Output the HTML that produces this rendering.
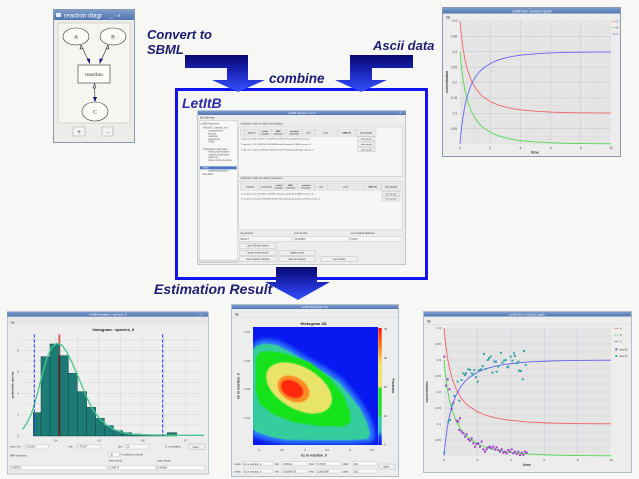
<!DOCTYPE html>
<html><head><meta charset="utf-8"><style>html,body{margin:0;padding:0;background:#f7f7f5;overflow:hidden}svg{display:block}</style></head><body>
<svg xmlns="http://www.w3.org/2000/svg" width="639" height="479" viewBox="0 0 639 479" font-family="'Liberation Sans', sans-serif">
<defs>
<linearGradient id="tb" x1="0" y1="0" x2="0" y2="1"><stop offset="0" stop-color="#7e9dcc"/><stop offset="1" stop-color="#4f74b0"/></linearGradient>
<linearGradient id="a1" gradientUnits="userSpaceOnUse" x1="0" y1="55" x2="0" y2="92"><stop offset="0" stop-color="#08086c"/><stop offset="0.45" stop-color="#1a26b8"/><stop offset="1" stop-color="#3352ff"/></linearGradient>
<linearGradient id="a2" gradientUnits="userSpaceOnUse" x1="0" y1="267" x2="0" y2="300"><stop offset="0" stop-color="#08086c"/><stop offset="0.45" stop-color="#1a26b8"/><stop offset="1" stop-color="#3352ff"/></linearGradient>
<linearGradient id="cbar" x1="0" y1="0" x2="0" y2="1"><stop offset="0" stop-color="#ff1010"/><stop offset="0.15" stop-color="#ff7010"/><stop offset="0.3" stop-color="#eee060"/><stop offset="0.5" stop-color="#e8e860"/><stop offset="0.52" stop-color="#20e020"/><stop offset="0.74" stop-color="#20e030"/><stop offset="0.77" stop-color="#30d0a0"/><stop offset="0.88" stop-color="#30c0c0"/><stop offset="0.93" stop-color="#1040ff"/><stop offset="1" stop-color="#0010f0"/></linearGradient>
<filter id="bl" x="-20%" y="-20%" width="140%" height="140%"><feGaussianBlur stdDeviation="2"/></filter>
<filter id="bl2" x="-10%" y="-10%" width="120%" height="120%"><feGaussianBlur stdDeviation="0.5"/></filter>
<clipPath id="hc"><rect x="253" y="327" width="125" height="118"/></clipPath>
</defs>
<rect width="639" height="479" fill="#f7f7f5"/>

<!-- headings -->
<g font-weight="bold" font-style="italic" fill="#1d1d72">
<text x="147" y="39" font-size="13">Convert to</text>
<text x="147" y="54" font-size="13">SBML</text>
<text x="269" y="83" font-size="13.5">combine</text>
<text x="373" y="50" font-size="13">Ascii data</text>
<text x="182" y="108" font-size="14" fill="#2c2ca6">LetItB</text>
<text x="154" y="294" font-size="14">Estimation Result</text>
</g>

<!-- blue frame -->
<rect x="176.5" y="89.5" width="250" height="189" fill="none" stroke="#1414f0" stroke-width="3"/>

<!-- arrows -->
<path d="M185,55 H248 V80 H265 L238,92 L212,80 H227 V68 H185 Z" fill="url(#a1)"/>
<path d="M350,55 H413 V68 H372 V80 H387 L361,92 L335,80 H350 Z" fill="url(#a1)"/>

<!-- top-left window -->
<g>
<rect x="53.5" y="9.5" width="81" height="133" fill="#ececea" stroke="#8899b0"/>
<rect x="54" y="10" width="80" height="10" fill="url(#tb)"/>
<rect x="56" y="13" width="5" height="4" fill="#fff" opacity=".85"/>
<text x="64" y="17.5" font-size="6.3" fill="#fff">reaction diagr</text>
<text x="110" y="17.5" font-size="5" fill="#fff">_  ▫  ×</text>
<rect x="58" y="23" width="72" height="100" fill="#f6f5f0" stroke="#d6d6cc"/>
<g fill="#fbfbf8" stroke="#333" stroke-width="0.6">
<ellipse cx="76" cy="36.5" rx="13" ry="8.5"/>
<ellipse cx="113" cy="36.5" rx="13" ry="8.5"/>
<rect x="78" y="65" width="32" height="18"/>
<ellipse cx="95" cy="111.5" rx="13" ry="9.5"/>
</g>
<g font-family="'Liberation Serif', serif" font-size="5.5" fill="#222" text-anchor="middle">
<text x="76" y="38.5">A</text><text x="113" y="38.5">B</text><text x="94" y="76">reaction</text><text x="95" y="113.5">C</text>
</g>
<g stroke="#223" stroke-width="0.6" fill="none">
<line x1="81" y1="45" x2="89.5" y2="63"/><line x1="108" y1="45" x2="100" y2="63"/><line x1="94.5" y1="83" x2="95" y2="101"/>
<path d="M81,45.5 L80,49 L83,48.5 Z" fill="#fff"/><path d="M108,45.5 L109,49 L106,48.5 Z" fill="#fff"/><path d="M94.5,84 L93,88 L96,88 Z" fill="#fff"/>
</g>
<g fill="#10107a"><path d="M90,64 L86.5,59 L90,58.5 Z"/><path d="M99.5,64 L99.5,58.5 L103,59 Z"/><path d="M95,102 L93,97 L97,97 Z"/></g>
<rect x="73" y="127" width="12" height="9" rx="1" fill="#f3f3f3" stroke="#aaa" stroke-width="0.6"/>
<text x="79" y="134" font-size="6" text-anchor="middle" fill="#333">+</text>
<rect x="102" y="127" width="11" height="9" rx="1" fill="#f3f3f3" stroke="#aaa" stroke-width="0.6"/>
<text x="107.5" y="134" font-size="6" text-anchor="middle" fill="#333">-</text>
</g>

<!-- top-right window -->
<g>
<rect x="442.5" y="7.5" width="178" height="149" fill="#ededed" stroke="#8899b0"/>
<rect x="443" y="8" width="177" height="5.5" fill="url(#tb)"/>
<text x="532" y="12.3" font-size="3.4" fill="#fff" text-anchor="middle">LetItB time evolution graph</text>
<text x="446" y="18.5" font-size="3.4" fill="#333">file</text>
<line x1="443" y1="20" x2="620" y2="20" stroke="#d8d8d8" stroke-width="0.5"/>
<rect x="460" y="21" width="151" height="123" fill="#e5e5e6"/>
<g stroke="#d0d0d0" stroke-width="0.4" stroke-dasharray="1,1">
<line x1="475.1" y1="21" x2="475.1" y2="144"/><line x1="505.3" y1="21" x2="505.3" y2="144"/><line x1="535.5" y1="21" x2="535.5" y2="144"/><line x1="565.7" y1="21" x2="565.7" y2="144"/><line x1="595.9" y1="21" x2="595.9" y2="144"/>
<line x1="460" y1="136.3" x2="611" y2="136.3"/><line x1="460" y1="120.9" x2="611" y2="120.9"/><line x1="460" y1="105.6" x2="611" y2="105.6"/><line x1="460" y1="90.2" x2="611" y2="90.2"/><line x1="460" y1="74.8" x2="611" y2="74.8"/><line x1="460" y1="59.4" x2="611" y2="59.4"/><line x1="460" y1="44.1" x2="611" y2="44.1"/><line x1="460" y1="28.7" x2="611" y2="28.7"/>
</g>
<g stroke="#c4c4d6" stroke-width="0.5">
<line x1="490.2" y1="21" x2="490.2" y2="144"/><line x1="520.4" y1="21" x2="520.4" y2="144"/><line x1="550.6" y1="21" x2="550.6" y2="144"/><line x1="580.8" y1="21" x2="580.8" y2="144"/>
<line x1="460" y1="128.6" x2="611" y2="128.6"/><line x1="460" y1="113.25" x2="611" y2="113.25"/><line x1="460" y1="97.9" x2="611" y2="97.9"/><line x1="460" y1="82.5" x2="611" y2="82.5"/><line x1="460" y1="67.1" x2="611" y2="67.1"/><line x1="460" y1="51.75" x2="611" y2="51.75"/><line x1="460" y1="36.4" x2="611" y2="36.4"/>
</g>
<g font-size="3.2" fill="#444" text-anchor="end">
<text x="457" y="22.2">0.4</text><text x="457" y="37.6">0.35</text><text x="457" y="53">0.3</text><text x="457" y="68.3">0.25</text><text x="457" y="83.7">0.2</text><text x="457" y="99.1">0.15</text><text x="457" y="114.5">0.1</text><text x="457" y="129.8">0.05</text>
</g>
<g font-size="3.2" fill="#444" text-anchor="middle">
<text x="460" y="149">0</text><text x="490.2" y="149">2</text><text x="520.4" y="149">4</text><text x="550.6" y="149">6</text><text x="580.8" y="149">8</text><text x="611" y="149">10</text>
</g>
<text x="535" y="153.5" font-size="3.8" font-weight="bold" fill="#333" text-anchor="middle">time</text>
<text x="448" y="82" font-size="3.4" font-weight="bold" fill="#333" text-anchor="middle" transform="rotate(-90,448,82)">concentration</text>
<g transform="translate(460,144) scale(15.1,-307.5)" fill="none">
<polyline vector-effect="non-scaling-stroke" stroke="#f06464" stroke-width="0.9" points="0,0.4 0.05,0.3724 0.1,0.3489 0.2,0.3111 0.3,0.2821 0.4,0.2591 0.5,0.2404 0.75,0.2064 1,0.1835 1.25,0.1671 1.5,0.1549 2,0.1381 2.5,0.1274 3,0.1201 3.5,0.115 4,0.1113 5,0.1066 6,0.1039 7,0.1023 8,0.1014 10,0.1005"/>
<polyline vector-effect="non-scaling-stroke" stroke="#50d850" stroke-width="0.9" points="0,0.3 0.05,0.2724 0.1,0.2489 0.2,0.2111 0.3,0.1821 0.4,0.1591 0.5,0.1404 0.75,0.1064 1,0.0835 1.25,0.0671 1.5,0.0549 2,0.0381 2.5,0.0274 3,0.0201 3.5,0.015 4,0.0113 5,0.0066 6,0.0039 7,0.0023 8,0.0014 10,0.0005"/>
<polyline vector-effect="non-scaling-stroke" stroke="#6464f0" stroke-width="0.9" points="0,0 0.05,0.0276 0.1,0.0511 0.2,0.0889 0.3,0.1179 0.4,0.1409 0.5,0.1596 0.75,0.1936 1,0.2165 1.25,0.2329 1.5,0.2451 2,0.2619 2.5,0.2726 3,0.2799 3.5,0.285 4,0.2887 5,0.2934 6,0.2961 7,0.2977 8,0.2986 10,0.2995"/>
</g>
<g stroke-width="0.7"><line x1="612.5" y1="21.5" x2="615.5" y2="21.5" stroke="#f06464"/><line x1="612.5" y1="27.5" x2="615.5" y2="27.5" stroke="#50d850"/><line x1="612.5" y1="34" x2="615.5" y2="34" stroke="#6464f0"/></g>
<g font-size="2.8" fill="#444"><text x="616.5" y="22.5">A</text><text x="616.5" y="28.5">B</text><text x="616.5" y="35">C</text></g>
</g>

<!-- center window (zoom coords) -->
<g transform="translate(170,80) scale(0.33333)">
<rect x="83" y="92" width="624" height="461" fill="#ededed" stroke="#8899b0" stroke-width="1.5"/>
<rect x="83" y="92" width="624" height="13" fill="url(#tb)"/>
<text x="395" y="102" font-size="9" fill="#fff" text-anchor="middle">LetItB: Sample 1.xml</text>
<text x="678" y="102" font-size="8" fill="#fff">_  ▫  ×</text>
<text x="90" y="116" font-size="8" fill="#333">file   Edit   help</text>
<rect x="88" y="122" width="115" height="426" fill="#f8f8f8" stroke="#aaa"/>
<rect x="90" y="259" width="110" height="9" fill="#4a78c0"/>
<g font-size="7" fill="#555">
<text x="92" y="134">LetItB Parameters</text>
<text x="98" y="146">⊟ Model 1 Sample1.xml</text>
<text x="115" y="155">compartments</text><text x="115" y="163">species</text><text x="115" y="171">reactions</text><text x="115" y="180">parameters</text><text x="115" y="188">ODEs</text>
<text x="98" y="210">⊟ Parameter Estimation</text>
<text x="115" y="218">initial concentrations</text><text x="115" y="226">reaction parameters</text><text x="115" y="234">data sets</text><text x="115" y="243">Monte Carlo execution</text>
<text x="98" y="266" fill="#fff">result</text>
<text x="115" y="274">estimated reactions</text>
<text x="98" y="285">Simulation</text>
</g>
<rect x="89" y="540" width="113" height="7" fill="#dedede" stroke="#bbb" stroke-width="0.8"/>
<text x="211" y="134" font-size="7" fill="#444">estimation results of initial concentrations</text>
<rect x="206" y="141" width="492" height="148" fill="#f6f6f6" stroke="#aaa"/>
<g fill="#e8e8e8" stroke="#bbb" stroke-width="0.8">
<rect x="211" y="147" width="12" height="22"/><rect x="223" y="147" width="45" height="22"/><rect x="268" y="147" width="35" height="22"/><rect x="303" y="147" width="45" height="22"/><rect x="348" y="147" width="50" height="22"/><rect x="398" y="147" width="35" height="22"/><rect x="433" y="147" width="70" height="22"/><rect x="503" y="147" width="55" height="22"/><rect x="558" y="147" width="60" height="22"/>
</g>
<g font-size="6.5" fill="#333" text-anchor="middle" font-weight="bold">
<text x="245" y="160">species</text><text x="285" y="156">initial</text><text x="285" y="164">sample</text><text x="325" y="156">MAP</text><text x="325" y="164">estimator</text><text x="373" y="156">standard</text><text x="373" y="164">deviation</text><text x="415" y="160">unit</text><text x="468" y="160">prior</text><text x="530" y="160">SBML ID</text><text x="588" y="160">show graph</text>
</g>
<g font-size="6.5" fill="#444">
<text x="213" y="179">0  species_0  0.4      0.427117    0.0419965    mol/l  Gamma(1.0.4071)   species_0</text>
<text x="213" y="195">1  species_1  0.3      0.298156    0.00545689  mol/l  Gamma(1.0.3044)   species_1</text>
<text x="213" y="211">2  species_2  0.01    0.0116492   0.0055279   mol/l  Gamma(1.00.0101)  species_2</text>
</g>
<g fill="#eee" stroke="#999" stroke-width="0.8"><rect x="563" y="170" width="52" height="13"/><rect x="563" y="186" width="52" height="13"/><rect x="563" y="202" width="52" height="13"/></g>
<g font-size="6.5" fill="#444" text-anchor="middle"><text x="589" y="179">show graph</text><text x="589" y="195">show graph</text><text x="589" y="211">show graph</text></g>
<text x="211" y="297" font-size="7" fill="#444">estimation results of reaction parameters</text>
<rect x="206" y="304" width="492" height="146" fill="#f6f6f6" stroke="#aaa"/>
<g fill="#e8e8e8" stroke="#bbb" stroke-width="0.8">
<rect x="211" y="309" width="57" height="22"/><rect x="268" y="309" width="45" height="22"/><rect x="313" y="309" width="28" height="22"/><rect x="341" y="309" width="42" height="22"/><rect x="383" y="309" width="50" height="22"/><rect x="433" y="309" width="40" height="22"/><rect x="473" y="309" width="110" height="22"/><rect x="583" y="309" width="50" height="22"/><rect x="633" y="309" width="60" height="22"/>
</g>
<g font-size="6.5" fill="#333" text-anchor="middle" font-weight="bold">
<text x="240" y="322">reaction</text><text x="290" y="322">parameter</text><text x="327" y="318">initial</text><text x="327" y="326">sample</text><text x="362" y="318">MAP</text><text x="362" y="326">estimator</text><text x="408" y="318">standard</text><text x="408" y="326">deviation</text><text x="453" y="322">unit</text><text x="528" y="322">prior</text><text x="608" y="322">SBML ID</text><text x="663" y="322">show graph</text>
</g>
<g font-size="6.5" fill="#444">
<text x="213" y="343">0  reaction_0   k1        5         4.39402      0.540436     unknown   gamma(1.0.0880)   reaction_0</text>
<text x="213" y="359">1  reaction_0   k2        0.01    0.0185563   0.0075764   unknown   gamma(1.0.0915)   reaction_0</text>
</g>
<g fill="#eee" stroke="#999" stroke-width="0.8"><rect x="636" y="334" width="54" height="13"/><rect x="636" y="350" width="54" height="13"/></g>
<g font-size="6.5" fill="#444" text-anchor="middle"><text x="663" y="343">show graph</text><text x="663" y="359">show graph</text></g>
<g font-size="7" fill="#444"><text x="211" y="462">log posterior</text><text x="372" y="462">error function</text><text x="540" y="462">-Log marginal likelihood</text></g>
<g fill="#f7f7f7" stroke="#aaa" stroke-width="0.8"><rect x="207" y="470" width="158" height="14"/><rect x="370" y="470" width="165" height="14"/><rect x="538" y="470" width="160" height="14"/></g>
<g font-size="7" fill="#444"><text x="211" y="480">525.417</text><text x="374" y="480">19.269837</text><text x="542" y="480">523.67</text></g>
<g fill="#efefef" stroke="#999" stroke-width="0.8">
<rect x="208" y="490" width="112" height="15" rx="2"/><rect x="208" y="511" width="112" height="15" rx="2"/><rect x="326" y="511" width="111" height="15" rx="2"/><rect x="208" y="530" width="112" height="15" rx="2"/><rect x="326" y="530" width="111" height="15" rx="2"/><rect x="452" y="530" width="110" height="15" rx="2"/>
</g>
<g font-size="7" fill="#444" text-anchor="middle">
<text x="264" y="500">open 2D stat window</text><text x="264" y="521">update initial sample</text><text x="381" y="521">update model</text><text x="264" y="540">save effective samples</text><text x="381" y="540">save all samples</text><text x="507" y="540">save results</text>
</g>
</g>

<!-- bottom arrow (over frame) -->
<path d="M276,267 H317 V282 H330 L298,300 L265,282 H276 Z" fill="url(#a2)"/>

<!-- bottom-left histogram window (zoom coords) -->
<g transform="translate(0,290) scale(0.33333)">
<rect x="22" y="65" width="603" height="487" fill="#ededed" stroke="#8899b0" stroke-width="1.5"/>
<rect x="22" y="65" width="603" height="15" fill="url(#tb)"/>
<text x="323" y="76" font-size="9" fill="#fff" text-anchor="middle">LetItB histogram : species_0</text>
<text x="590" y="76" font-size="8" fill="#fff">_  ▫  ×</text>
<rect x="24" y="82" width="599" height="22" fill="#e6e6e6"/>
<text x="33" y="100" font-size="9" fill="#333">file</text>
<text x="340" y="123" font-size="12" font-weight="bold" fill="#222" text-anchor="middle">histogram : species_0</text>
<rect x="65" y="133" width="547" height="305" fill="#efefef"/>
<g stroke="#bcbcbc" stroke-width="1.5" stroke-dasharray="3,3">
<line x1="102" y1="133" x2="102" y2="438"/><line x1="167" y1="133" x2="167" y2="438"/><line x1="232" y1="133" x2="232" y2="438"/><line x1="297" y1="133" x2="297" y2="438"/><line x1="362" y1="133" x2="362" y2="438"/><line x1="428" y1="133" x2="428" y2="438"/><line x1="492" y1="133" x2="492" y2="438"/><line x1="557" y1="133" x2="557" y2="438"/>
<line x1="65" y1="150" x2="612" y2="150"/><line x1="65" y1="182" x2="612" y2="182"/><line x1="65" y1="213" x2="612" y2="213"/><line x1="65" y1="245" x2="612" y2="245"/><line x1="65" y1="277" x2="612" y2="277"/><line x1="65" y1="310" x2="612" y2="310"/><line x1="65" y1="341" x2="612" y2="341"/><line x1="65" y1="373" x2="612" y2="373"/><line x1="65" y1="405" x2="612" y2="405"/>
</g>
<g font-size="8" fill="#444" text-anchor="end"><text x="57" y="185">8</text><text x="57" y="248">6</text><text x="57" y="313">4</text><text x="57" y="376">2</text><text x="57" y="440">0</text></g>
<g font-size="8" fill="#444" text-anchor="middle"><text x="167" y="455">0.4</text><text x="297" y="455">0.5</text><text x="428" y="455">0.6</text><text x="557" y="455">0.7</text></g>
<text x="40" y="285" font-size="9" font-weight="bold" fill="#333" text-anchor="middle" transform="rotate(-90,40,285)">probability density</text>
<line x1="178" y1="133" x2="178" y2="200" stroke="#e86060" stroke-width="6"/>
<g fill="#1e7a74" stroke="#0e4844" stroke-width="1.5">
<rect x="100" y="368" width="23" height="70"/><rect x="123" y="200" width="27" height="238"/><rect x="150" y="162" width="28" height="276"/><rect x="178" y="197" width="27" height="241"/><rect x="205" y="250" width="27" height="188"/><rect x="232" y="305" width="28" height="133"/><rect x="260" y="352" width="27" height="86"/><rect x="287" y="385" width="26" height="53"/><rect x="313" y="407" width="27" height="31"/><rect x="340" y="422" width="28" height="16"/><rect x="368" y="428" width="27" height="10"/><rect x="395" y="432" width="27" height="6"/><rect x="422" y="434" width="26" height="4"/><rect x="448" y="434" width="27" height="4"/><rect x="475" y="434" width="27" height="4"/><rect x="502" y="428" width="28" height="10"/>
</g>
<line x1="178" y1="197" x2="178" y2="438" stroke="#5a2a2a" stroke-width="6"/>
<polyline fill="none" stroke="#48c890" stroke-width="4" points="68,418 80,400 95,370 110,320 125,260 140,205 155,172 170,160 185,165 200,185 215,215 230,250 245,285 260,322 275,352 290,375 305,392 320,405 340,418 360,425 380,430 400,433 450,435 500,436 612,436"/>
<g stroke="#2233ee" stroke-width="3" stroke-dasharray="10,5"><line x1="103" y1="133" x2="103" y2="438"/><line x1="488" y1="133" x2="488" y2="438"/></g>
<g font-size="7" fill="#444">
<text x="28" y="472">x-axis:  min</text><text x="205" y="472">max</text><text x="355" y="472">bins</text><text x="495" y="472">☐ x smoothing</text>
<text x="30" y="500">MAP estimators</text><text x="362" y="496">% confidence interval</text>
<text x="327" y="515">lower bound</text><text x="472" y="515">upper bound</text>
</g>
<g fill="#f8f8f8" stroke="#aaa"><rect x="75" y="463" width="70" height="14"/><rect x="230" y="463" width="70" height="14"/><rect x="378" y="463" width="67" height="14"/><rect x="325" y="486" width="33" height="13"/><rect x="30" y="526" width="290" height="14"/><rect x="325" y="526" width="143" height="14"/><rect x="470" y="526" width="145" height="14"/></g>
<rect x="565" y="462" width="50" height="17" rx="2" fill="#efefef" stroke="#999"/>
<g font-size="7" fill="#444"><text x="78" y="473">0.322832</text><text x="233" y="473">0.742317</text><text x="381" y="473">20</text><text x="331" y="496">90</text><text x="33" y="536">0.408700</text><text x="328" y="536">0.348173</text><text x="473" y="536">0.649591</text><text x="578" y="474">replot</text></g>
</g>

<!-- bottom-middle heatmap window -->
<g>
<rect x="231.5" y="304.5" width="167" height="172" fill="#ededed" stroke="#8899b0" stroke-width="0.6"/>
<rect x="232" y="305" width="166" height="4" fill="url(#tb)"/>
<text x="314.5" y="308.2" font-size="3" fill="#fff" text-anchor="middle">LetItB histogram 2D</text>
<text x="235" y="315.5" font-size="3.2" fill="#333">file</text>
<line x1="232" y1="317.5" x2="398" y2="317.5" stroke="#d8d8d8" stroke-width="0.5"/>
<text x="313.5" y="324.8" font-size="4" font-weight="bold" fill="#222" text-anchor="middle">Histogram 2D</text>
<g clip-path="url(#hc)">
<rect x="253" y="327" width="125" height="118" fill="#0818f0"/>
<path filter="url(#bl)" fill="#2a78ff" d="M251,346 L257,341 L266,339 L278,341 L292,348 L308,358 L326,368 L342,379 L354,393 L364,407 L371,420 L375,433 L373,442 L350,444 L316,444 L286,444 L268,441 L252,436 Z"/>
<path filter="url(#bl2)" fill="#34cc9e" d="M252.7,350 L256.7,345.7 L265,343.3 L276.7,345 L290,351.7 L306.7,361.7 L323.3,371.7 L338.3,381.7 L350,395 L360,408.3 L366.7,421.7 L370,433.3 L368.3,439 L350,440.3 L316.7,440.3 L286.7,440 L270,436.7 L256.7,432.3 L252.7,429 Z"/>
<path filter="url(#bl2)" fill="#18e21c" d="M256,358.3 L260,352.3 L270,351 L283.3,353 L310,362.3 L330,378.3 L343.3,395 L350,411.7 L350.7,422.3 L343.3,426.7 L316.7,425.7 L293.3,422.3 L273.3,414.3 L260,404.3 L256,391.7 Z"/>
<ellipse filter="url(#bl2)" cx="299" cy="388" rx="36" ry="21" transform="rotate(30,299,388)" fill="#e8e46a"/>
<ellipse filter="url(#bl2)" cx="293.5" cy="389" rx="17" ry="12" transform="rotate(30,293.5,389)" fill="#ff8a20"/>
<ellipse filter="url(#bl2)" cx="292" cy="389" rx="12" ry="8" transform="rotate(30,292,389)" fill="#ff2a10"/>
</g>
<rect x="378.3" y="328" width="3.4" height="117" fill="url(#cbar)"/>
<g font-size="2.8" fill="#444"><text x="384" y="330">40</text><text x="384" y="359">30</text><text x="384" y="388">20</text><text x="384" y="417">10</text><text x="384" y="445.5">0</text></g>
<text x="392" y="386" font-size="3.4" font-weight="bold" fill="#333" text-anchor="middle" transform="rotate(90,392,386)">Posterior</text>
<g font-size="2.8" fill="#444" text-anchor="end"><text x="250" y="333">0.04</text><text x="250" y="362">0.03</text><text x="250" y="390">0.02</text><text x="250" y="419">0.01</text></g>
<g font-size="2.8" fill="#444" text-anchor="middle"><text x="259" y="451">3</text><text x="282" y="451">3.5</text><text x="305" y="451">4</text><text x="327" y="451">4.5</text><text x="350" y="451">5</text><text x="372" y="451">5.5</text></g>
<text x="314" y="456.5" font-size="3.4" font-weight="bold" fill="#333" text-anchor="middle">k1 in reaction_0</text>
<text x="239.5" y="386" font-size="3.4" font-weight="bold" fill="#333" text-anchor="middle" transform="rotate(-90,239.5,386)">k2 in reaction_0</text>
<g fill="#f8f8f8" stroke="#aaa" stroke-width="0.3"><rect x="243" y="461.5" width="30" height="4"/><rect x="282" y="461.5" width="25" height="4"/><rect x="316" y="461.5" width="25" height="4"/><rect x="353" y="461.5" width="24" height="4"/><rect x="243" y="469" width="30" height="4"/><rect x="282" y="469" width="25" height="4"/><rect x="316" y="469" width="25" height="4"/><rect x="353" y="469" width="24" height="4"/></g>
<rect x="379" y="464" width="16" height="5" rx="0.6" fill="#efefef" stroke="#999" stroke-width="0.3"/>
<g font-size="2.5" fill="#444"><text x="234" y="464.8">x-axis</text><text x="275" y="464.8">min</text><text x="309" y="464.8">max</text><text x="343" y="464.8">grids</text><text x="234" y="472.3">y-axis</text><text x="275" y="472.3">min</text><text x="309" y="472.3">max</text><text x="343" y="472.3">grids</text>
<text x="244" y="464.8">k1 in reaction_0</text><text x="283" y="464.8">2.88144</text><text x="317" y="464.8">5.70497</text><text x="354" y="464.8">200</text><text x="244" y="472.3">k2 in reaction_0</text><text x="283" y="472.3">0.00549739</text><text x="317" y="472.3">0.0415898</text><text x="354" y="472.3">200</text><text x="383" y="467.6">replot</text></g>
</g>

<!-- bottom-right window -->
<g>
<rect x="423.5" y="311.5" width="208" height="161" fill="#ededed" stroke="#8899b0" stroke-width="0.6"/>
<rect x="424" y="312" width="207" height="4.5" fill="url(#tb)"/>
<text x="527" y="315.6" font-size="3" fill="#fff" text-anchor="middle">LetItB time evolution graph</text>
<text x="427" y="322.5" font-size="3.2" fill="#333">file</text>
<line x1="424" y1="324.5" x2="631" y2="324.5" stroke="#d8d8d8" stroke-width="0.5"/>
<rect x="444" y="328" width="167" height="128" fill="#e5e5e6"/>
<g stroke="#d0d0d0" stroke-width="0.4" stroke-dasharray="1,1">
<line x1="460.7" y1="328" x2="460.7" y2="456"/><line x1="494.1" y1="328" x2="494.1" y2="456"/><line x1="527.5" y1="328" x2="527.5" y2="456"/><line x1="560.9" y1="328" x2="560.9" y2="456"/><line x1="594.3" y1="328" x2="594.3" y2="456"/>
<line x1="444" y1="448" x2="611" y2="448"/><line x1="444" y1="432" x2="611" y2="432"/><line x1="444" y1="416" x2="611" y2="416"/><line x1="444" y1="400" x2="611" y2="400"/><line x1="444" y1="384" x2="611" y2="384"/><line x1="444" y1="368" x2="611" y2="368"/><line x1="444" y1="352" x2="611" y2="352"/><line x1="444" y1="336" x2="611" y2="336"/>
</g>
<g stroke="#c4c4d6" stroke-width="0.5">
<line x1="477.4" y1="328" x2="477.4" y2="456"/><line x1="510.8" y1="328" x2="510.8" y2="456"/><line x1="544.2" y1="328" x2="544.2" y2="456"/><line x1="577.6" y1="328" x2="577.6" y2="456"/>
<line x1="444" y1="440" x2="611" y2="440"/><line x1="444" y1="424" x2="611" y2="424"/><line x1="444" y1="408" x2="611" y2="408"/><line x1="444" y1="392" x2="611" y2="392"/><line x1="444" y1="376" x2="611" y2="376"/><line x1="444" y1="360" x2="611" y2="360"/><line x1="444" y1="344" x2="611" y2="344"/>
</g>
<g font-size="3" fill="#444" text-anchor="end"><text x="441" y="329.2">0.4</text><text x="441" y="345">0.35</text><text x="441" y="361">0.3</text><text x="441" y="377">0.25</text><text x="441" y="393">0.2</text><text x="441" y="409">0.15</text><text x="441" y="425">0.1</text><text x="441" y="441">0.05</text></g>
<g font-size="3" fill="#444" text-anchor="middle"><text x="444" y="461">0</text><text x="477.4" y="461">2</text><text x="510.8" y="461">4</text><text x="544.2" y="461">6</text><text x="577.6" y="461">8</text><text x="611" y="461">10</text></g>
<text x="527" y="466" font-size="3.6" font-weight="bold" fill="#333" text-anchor="middle">time</text>
<text x="428" y="392" font-size="3.2" font-weight="bold" fill="#333" text-anchor="middle" transform="rotate(-90,428,392)">concentration</text>
<g transform="translate(444,456) scale(16.7,-320)" fill="none">
<polyline vector-effect="non-scaling-stroke" stroke="#f06464" stroke-width="0.9" points="0,0.4 0.05,0.3724 0.1,0.3489 0.2,0.3111 0.3,0.2821 0.4,0.2591 0.5,0.2404 0.75,0.2064 1,0.1835 1.25,0.1671 1.5,0.1549 2,0.1381 2.5,0.1274 3,0.1201 3.5,0.115 4,0.1113 5,0.1066 6,0.1039 7,0.1023 8,0.1014 10,0.1005"/>
<polyline vector-effect="non-scaling-stroke" stroke="#50d850" stroke-width="0.9" points="0,0.3 0.05,0.2724 0.1,0.2489 0.2,0.2111 0.3,0.1821 0.4,0.1591 0.5,0.1404 0.75,0.1064 1,0.0835 1.25,0.0671 1.5,0.0549 2,0.0381 2.5,0.0274 3,0.0201 3.5,0.015 4,0.0113 5,0.0066 6,0.0039 7,0.0023 8,0.0014 10,0.0005"/>
<polyline vector-effect="non-scaling-stroke" stroke="#6464f0" stroke-width="0.9" points="0,0 0.05,0.0276 0.1,0.0511 0.2,0.0889 0.3,0.1179 0.4,0.1409 0.5,0.1596 0.75,0.1936 1,0.2165 1.25,0.2329 1.5,0.2451 2,0.2619 2.5,0.2726 3,0.2799 3.5,0.285 4,0.2887 5,0.2934 6,0.2961 7,0.2977 8,0.2986 10,0.2995"/>
</g>
<g transform="translate(415,290) scale(0.33333)">
<g fill="#30a4a4">
<rect x="85" y="485" width="6" height="6"/><rect x="97" y="392" width="6" height="6"/><rect x="102" y="387" width="6" height="6"/><rect x="109" y="342" width="6" height="6"/><rect x="115" y="315" width="6" height="6"/><rect x="125" y="272" width="6" height="6"/><rect x="130" y="329" width="6" height="6"/><rect x="137" y="267" width="6" height="6"/><rect x="142" y="247" width="6" height="6"/><rect x="147" y="252" width="6" height="6"/><rect x="150" y="247" width="6" height="6"/><rect x="157" y="235" width="6" height="6"/><rect x="162" y="237" width="6" height="6"/><rect x="167" y="247" width="6" height="6"/><rect x="172" y="250" width="6" height="6"/><rect x="175" y="237" width="6" height="6"/><rect x="180" y="259" width="6" height="6"/><rect x="185" y="272" width="6" height="6"/><rect x="190" y="237" width="6" height="6"/><rect x="195" y="235" width="6" height="6"/><rect x="200" y="225" width="6" height="6"/><rect x="204" y="189" width="6" height="6"/><rect x="209" y="234" width="6" height="6"/><rect x="215" y="207" width="6" height="6"/><rect x="219" y="202" width="6" height="6"/><rect x="224" y="197" width="6" height="6"/><rect x="229" y="245" width="6" height="6"/><rect x="235" y="212" width="6" height="6"/><rect x="240" y="212" width="6" height="6"/><rect x="242" y="242" width="6" height="6"/><rect x="247" y="227" width="6" height="6"/><rect x="255" y="185" width="6" height="6"/><rect x="259" y="215" width="6" height="6"/><rect x="264" y="209" width="6" height="6"/><rect x="269" y="207" width="6" height="6"/><rect x="274" y="229" width="6" height="6"/><rect x="277" y="227" width="6" height="6"/><rect x="284" y="197" width="6" height="6"/><rect x="289" y="209" width="6" height="6"/><rect x="294" y="187" width="6" height="6"/><rect x="297" y="195" width="6" height="6"/><rect x="302" y="217" width="6" height="6"/><rect x="307" y="212" width="6" height="6"/><rect x="309" y="239" width="6" height="6"/><rect x="315" y="240" width="6" height="6"/><rect x="320" y="265" width="6" height="6"/><rect x="324" y="180" width="6" height="6"/><rect x="329" y="222" width="6" height="6"/>
</g>
<g fill="#a040d0">
<rect x="85" y="197" width="6" height="6"/><rect x="90" y="284" width="6" height="6"/><rect x="95" y="265" width="6" height="6"/><rect x="100" y="295" width="6" height="6"/><rect x="107" y="353" width="6" height="6"/><rect x="112" y="335" width="6" height="6"/><rect x="122" y="389" width="6" height="6"/><rect x="127" y="392" width="6" height="6"/><rect x="132" y="382" width="6" height="6"/><rect x="130" y="417" width="6" height="6"/><rect x="137" y="422" width="6" height="6"/><rect x="142" y="427" width="6" height="6"/><rect x="147" y="437" width="6" height="6"/><rect x="152" y="430" width="6" height="6"/><rect x="157" y="445" width="6" height="6"/><rect x="162" y="449" width="6" height="6"/><rect x="167" y="442" width="6" height="6"/><rect x="172" y="457" width="6" height="6"/><rect x="177" y="467" width="6" height="6"/><rect x="182" y="459" width="6" height="6"/><rect x="187" y="457" width="6" height="6"/><rect x="192" y="467" width="6" height="6"/><rect x="197" y="452" width="6" height="6"/><rect x="202" y="475" width="6" height="6"/><rect x="207" y="482" width="6" height="6"/><rect x="212" y="475" width="6" height="6"/><rect x="217" y="469" width="6" height="6"/><rect x="222" y="467" width="6" height="6"/><rect x="227" y="472" width="6" height="6"/><rect x="232" y="467" width="6" height="6"/><rect x="237" y="475" width="6" height="6"/><rect x="242" y="469" width="6" height="6"/><rect x="247" y="477" width="6" height="6"/><rect x="252" y="482" width="6" height="6"/><rect x="257" y="475" width="6" height="6"/><rect x="262" y="485" width="6" height="6"/><rect x="267" y="482" width="6" height="6"/><rect x="272" y="487" width="6" height="6"/><rect x="277" y="477" width="6" height="6"/><rect x="282" y="482" width="6" height="6"/><rect x="287" y="475" width="6" height="6"/><rect x="292" y="487" width="6" height="6"/><rect x="297" y="482" width="6" height="6"/><rect x="302" y="489" width="6" height="6"/><rect x="307" y="482" width="6" height="6"/><rect x="312" y="492" width="6" height="6"/><rect x="317" y="485" width="6" height="6"/><rect x="322" y="492" width="6" height="6"/><rect x="327" y="482" width="6" height="6"/><rect x="332" y="485" width="6" height="6"/>
</g>
<g stroke-width="2"><line x1="598" y1="115" x2="610" y2="115" stroke="#f06464"/><line x1="598" y1="135" x2="610" y2="135" stroke="#50d850"/><line x1="598" y1="155" x2="610" y2="155" stroke="#6464f0"/></g>
<rect x="601" y="175" width="6" height="6" fill="#a040d0"/><rect x="601" y="195" width="6" height="6" fill="#30a4a4"/>
<g font-size="7" fill="#444"><text x="615" y="118">A</text><text x="615" y="138">B</text><text x="615" y="158">C</text><text x="613" y="181">data (B)</text><text x="613" y="201">data (C)</text></g>
</g>
</g>
</svg>
</body></html>
